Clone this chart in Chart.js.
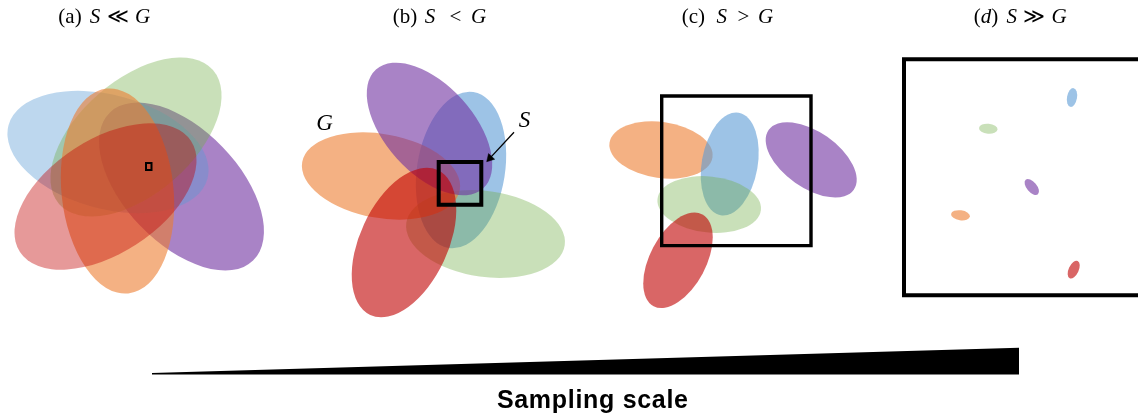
<!DOCTYPE html>
<html>
<head>
<meta charset="utf-8">
<script src="https://cdn.jsdelivr.net/npm/chart.js@4.4.1/dist/chart.umd.min.js"></script>
<style>
  html, body { margin: 0; padding: 0; background: #ffffff; }
  canvas { display: block; }
</style>
</head>
<body>
<canvas id="scaleChart" width="1138" height="417"></canvas>
<script>
// Five groups, drawn as ellipses; index order is shared by every panel below.
const groups = ['blue', 'green', 'orange', 'red', 'purple'];

// (a) S << G : large, heavily overlapping ellipses
const aCx    = [108, 136, 117.5, 105.5, 181.5];
const aCy    = [152, 137, 191, 196.5, 186.5];
const aRx    = [103, 102, 103, 102, 103];
const aRy    = [57, 57, 56, 57, 57];
const aAngle = [15, -41, 84, -33, 46];

// (b) S < G
const bCx    = [461, 485.5, 381, 404, 429.5];
const bCy    = [170, 234, 176, 242.5, 129];
const bRx    = [79, 80, 80, 80, 80];
const bRy    = [44, 43, 42, 44, 44];
const bAngle = [99, 8, 10, 115, 48];

// (c) S > G
const cCx    = [729.7, 709.2, 661, 678, 811.2];
const cCy    = [164, 204.5, 150, 260.3, 159.8];
const cRx    = [52, 52, 52, 52, 52];
const cRy    = [28, 28, 28, 28, 28];
const cAngle = [100, 6, 8, 118, 35];

// (d) S >> G : tiny, well separated ellipses
const dCx    = [1072, 988.3, 960.5, 1073.7, 1031.8];
const dCy    = [97.5, 128.7, 215.3, 269.7, 187];
const dRx    = [9.5, 9.3, 9.5, 9.5, 9.5];
const dRy    = [5, 5, 5, 5, 5];
const dAngle = [100, 5, 8, 115, 50];

// Sampling windows S, one per panel
const winLeft   = [146, 438.7, 661.7, 904];
const winRight  = [151.5, 481.3, 811, 1142];
const winTop    = [163, 162, 96, 59.3];
const winBottom = [170, 204.7, 245.6, 295.2];

// Arrow pointing at the window in (b)
const arrowX = [514, 486.7];
const arrowY = [132.3, 161.7];

// Sampling-scale wedge
const wedgeX    = [152, 1019];
const wedgeTop  = [373, 347.7];
const wedgeBase = 374.4;

// ---- styles ----
const groupColors = {
  blue: '#5B9BD5', green: '#70AD47', orange: '#ED7D31', red: '#C00000', purple: '#7030A0'
};
const panels = [
  { cx: aCx, cy: aCy, rx: aRx, ry: aRy, angle: aAngle },
  { cx: bCx, cy: bCy, rx: bRx, ry: bRy, angle: bAngle },
  { cx: cCx, cy: cCy, rx: cRx, ry: cRy, angle: cAngle },
  { cx: dCx, cy: dCy, rx: dRx, ry: dRy, angle: dAngle }
];
const panelStyles = [
  { order: [4, 0, 1, 2, 3], alpha: [0.4, 0.38, 0.6, 0.4, 0.6] },
  { order: [0, 1, 2, 4, 3], alpha: [0.6, 0.38, 0.6, 0.6, 0.6] },
  { order: [2, 0, 1, 3, 4], alpha: [0.6, 0.38, 0.6, 0.6, 0.6] },
  { order: [0, 1, 2, 3, 4], alpha: [0.6, 0.38, 0.6, 0.6, 0.6] }
];
const winLineWidths = [2, 4, 3.4, 4];

const serif = '"Liberation Serif", "DejaVu Serif", serif';
const titleSize = 21;
// each title piece is a run of glyphs (roman or italic) centred on c
const panelTitles = [
  [{ c: 70, run: [['(a)']] }, { c: 95, run: [['S', 1]] }, { c: 117.5, run: [['\u226A']] }, { c: 142.5, run: [['G', 1]] }],
  [{ c: 405, run: [['(b)']] }, { c: 430, run: [['S', 1]] }, { c: 455.5, run: [['<']] }, { c: 478.5, run: [['G', 1]] }],
  [{ c: 693.3, run: [['(c)']] }, { c: 721.7, run: [['S', 1]] }, { c: 743.3, run: [['>']] }, { c: 765.5, run: [['G', 1]] }],
  [{ c: 986, run: [['('], ['d', 1], [')']] }, { c: 1011.7, run: [['S', 1]] }, { c: 1034, run: [['\u226B']] }, { c: 1059, run: [['G', 1]] }]
];

// Window outlines as closed line datasets (second corner repeated so the joins stay square)
const windowDatasets = winLeft.map((l, i) => {
  const r = winRight[i], t = winTop[i], b = winBottom[i];
  return {
    type: 'scatter',
    data: [{ x: l, y: t }, { x: r, y: t }, { x: r, y: b }, { x: l, y: b }, { x: l, y: t }, { x: r, y: t }],
    showLine: true,
    borderColor: '#000000',
    borderWidth: winLineWidths[i],
    borderJoinStyle: 'miter',
    borderCapStyle: 'butt',
    pointRadius: 0,
    fill: false,
    clip: false,
    order: 1
  };
});

const arrowAngle = Math.atan2(arrowY[1] - arrowY[0], arrowX[1] - arrowX[0]) * 180 / Math.PI;
const headRadius = 4.8;
const headBack = {
  x: arrowX[1] - headRadius * Math.cos(arrowAngle * Math.PI / 180),
  y: arrowY[1] - headRadius * Math.sin(arrowAngle * Math.PI / 180)
};

const datasets = [
  {
    type: 'scatter',
    data: wedgeX.map((x, i) => ({ x, y: wedgeTop[i] })),
    showLine: true,
    borderWidth: 0,
    borderColor: 'rgba(0,0,0,0)',
    backgroundColor: '#000000',
    pointRadius: 0,
    fill: { value: wedgeBase },
    order: 2
  },
  ...windowDatasets,
  {
    type: 'scatter',
    data: [{ x: arrowX[0], y: arrowY[0] }, headBack],
    showLine: true,
    borderColor: '#000000',
    borderWidth: 1.3,
    pointRadius: [0, headRadius],
    pointStyle: 'triangle',
    pointRotation: arrowAngle + 90,
    pointBackgroundColor: '#000000',
    pointBorderColor: '#000000',
    pointBorderWidth: 0.5,
    fill: false,
    order: 0
  }
];

const ellipseLayer = {
  id: 'ellipseLayer',
  beforeDatasetsDraw(chart) {
    const { ctx, scales: { x, y } } = chart;
    const sx = Math.abs(x.getPixelForValue(1) - x.getPixelForValue(0));
    const sy = Math.abs(y.getPixelForValue(1) - y.getPixelForValue(0));
    panels.forEach((p, pi) => {
      const st = panelStyles[pi];
      st.order.forEach(i => {
        ctx.save();
        ctx.beginPath();
        ctx.ellipse(
          x.getPixelForValue(p.cx[i]), y.getPixelForValue(p.cy[i]),
          p.rx[i] * sx, p.ry[i] * sy,
          p.angle[i] * Math.PI / 180, 0, Math.PI * 2
        );
        ctx.globalAlpha = st.alpha[i];
        ctx.fillStyle = groupColors[groups[i]];
        ctx.fill();
        ctx.restore();
      });
    });
  }
};

const textLayer = {
  id: 'textLayer',
  afterDraw(chart) {
    const { ctx, scales: { x, y } } = chart;
    ctx.save();
    ctx.fillStyle = '#000000';
    ctx.textAlign = 'left';
    ctx.textBaseline = 'alphabetic';
    const fontFor = it => (it ? 'italic ' : '') + titleSize + 'px ' + serif;
    panelTitles.forEach(pieces => {
      pieces.forEach(piece => {
        let total = 0;
        piece.run.forEach(([t, it]) => { ctx.font = fontFor(it); total += ctx.measureText(t).width; });
        let px = x.getPixelForValue(piece.c) - total / 2;
        piece.run.forEach(([t, it]) => {
          ctx.font = fontFor(it);
          ctx.fillText(t, px, y.getPixelForValue(23));
          px += ctx.measureText(t).width;
        });
      });
    });
    ctx.textAlign = 'center';
    // labels for the ground extent G and the sampling window S in (b)
    ctx.font = 'italic 23px ' + serif;
    ctx.fillText('G', x.getPixelForValue(324.5), y.getPixelForValue(130));
    ctx.fillText('S', x.getPixelForValue(524.5), y.getPixelForValue(126.5));
    // axis caption under the wedge
    ctx.font = 'bold 25px "Liberation Sans", Arial, sans-serif';
    ctx.letterSpacing = '0.7px';
    ctx.fillText('Sampling scale', x.getPixelForValue(592.8), y.getPixelForValue(407.5));
    ctx.restore();
  }
};

new Chart(document.getElementById('scaleChart'), {
  type: 'scatter',
  data: { datasets },
  options: {
    responsive: false,
    animation: false,
    devicePixelRatio: 1,
    layout: { padding: 0, autoPadding: false },
    plugins: { legend: { display: false }, tooltip: { enabled: false }, title: { display: false } },
    elements: { line: { tension: 0 } },
    scales: {
      x: { type: 'linear', min: 0, max: 1138, display: false },
      y: { type: 'linear', min: 0, max: 417, reverse: true, display: false }
    }
  },
  plugins: [ellipseLayer, textLayer]
});
</script>
</body>
</html>
